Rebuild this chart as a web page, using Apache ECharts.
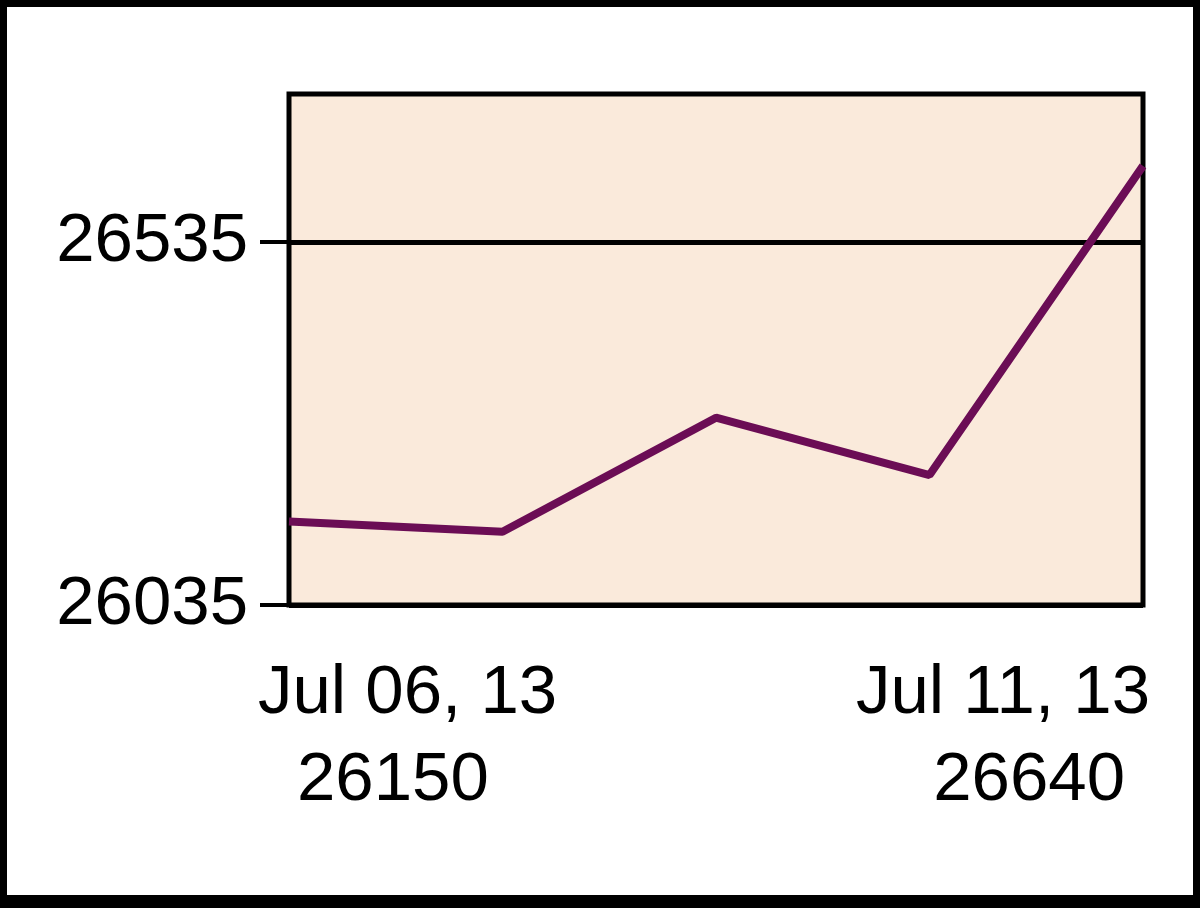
<!DOCTYPE html>
<html>
<head>
<meta charset="utf-8">
<script src="https://cdn.jsdelivr.net/npm/echarts@6/dist/echarts.min.js"></script>
<style>
html,body{margin:0;padding:0;background:#fff;}
#chart{width:1200px;height:908px;}
</style>
</head>
<body>
<div id="chart"></div>
<script>
// Data
const categories = ['Jul 06, 13', 'Jul 07, 13', 'Jul 09, 13', 'Jul 10, 13', 'Jul 11, 13'];
const values = [26150, 26136, 26293, 26214, 26640];
const yTicks = [26035, 26535];
const yMin = 26035;
const yMax = 26739;
const firstLabel = ['Jul 06, 13', '26150'];
const lastLabel = ['Jul 11, 13', '26640'];

const FONT = 'Liberation Sans, Arial, sans-serif';
const chart = echarts.init(document.getElementById('chart'), null, {renderer: 'canvas'});

const option = {
  animation: false,
  backgroundColor: '#ffffff',
  grid: {
    left: 289, top: 94, right: 57, bottom: 303,
    show: true,
    backgroundColor: '#FAEADB',
    borderColor: '#000000',
    borderWidth: 5
  },
  xAxis: {
    type: 'category',
    data: categories,
    boundaryGap: false,
    axisLine: {show: false},
    axisTick: {show: false},
    axisLabel: {show: false},
    splitLine: {show: false}
  },
  yAxis: {
    type: 'value',
    min: yMin,
    max: yMax,
    axisLine: {show: false},
    axisTick: {show: true, length: 29, lineStyle: {color: '#000', width: 4}, customValues: yTicks},
    axisLabel: {
      show: true, customValues: yTicks, margin: 41,
      color: '#000', fontSize: 69, fontFamily: FONT,
      formatter: v => String(v)
    },
    splitLine: {show: true, lineStyle: {color: '#000', width: 5}}
  },
  series: [{
    type: 'line',
    data: values,
    symbol: 'none',
    z: 5,
    lineStyle: {color: '#6B0D55', width: 8},
    itemStyle: {color: '#6B0D55'}
  }]
};
chart.setOption(option);

const x0 = chart.convertToPixel({xAxisIndex: 0}, 0);
const x1 = chart.convertToPixel({xAxisIndex: 0}, categories.length - 1);
const textStyle = (t, align) => ({text: t, fill: '#000', fontSize: 69, fontFamily: FONT, align: align, verticalAlign: 'middle'});

chart.setOption({
  graphic: [
    {type: 'text', x: x0 - 31, y: 694, style: textStyle(firstLabel[0], 'left')},
    {type: 'text', x: x0 + 8, y: 781, style: textStyle(firstLabel[1], 'left')},
    {type: 'text', x: x1 + 7, y: 694, style: textStyle(lastLabel[0], 'right')},
    {type: 'text', x: x1 - 18, y: 781, style: textStyle(lastLabel[1], 'right')},
    {type: 'rect', shape: {x: 0, y: 0, width: 1200, height: 7}, style: {fill: '#000'}},
    {type: 'rect', shape: {x: 0, y: 0, width: 7, height: 908}, style: {fill: '#000'}},
    {type: 'rect', shape: {x: 1193, y: 0, width: 7, height: 908}, style: {fill: '#000'}},
    {type: 'rect', shape: {x: 0, y: 895, width: 1200, height: 13}, style: {fill: '#000'}}
  ]
});
</script>
</body>
</html>
